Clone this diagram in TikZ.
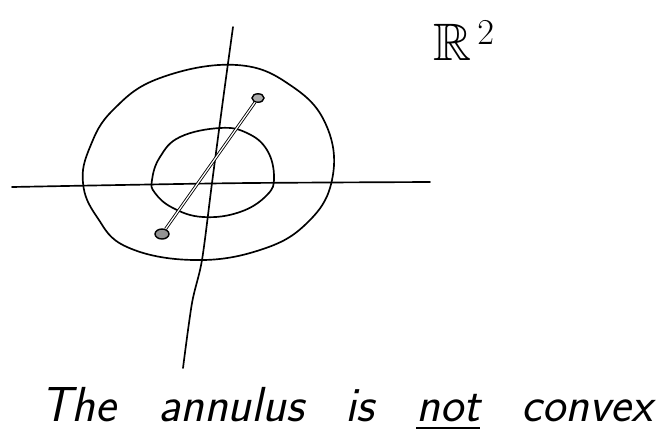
\documentclass[tikz,border=0pt]{standalone}
\usepackage{amssymb}
\usetikzlibrary{shapes.geometric}
\tikzset{
  pen/.style={line width=0.95pt, line cap=round, line join=round},
  spot/.style={ellipse, draw, line width=0.8pt, fill=gray!65, inner sep=0pt,
    minimum width=0.24cm, minimum height=0.17cm},
  chord/.style={line width=0.5pt, double, double distance=0.7pt}
}
\begin{document}
\begin{tikzpicture}[x=0.02cm, y=-0.02cm]
  \useasboundingbox (0,0) rectangle (662,430);
  % 坐标轴
  \draw[pen] plot[smooth] coordinates {(12,187) (120,185) (250,183) (430,182)};
  \draw[pen] plot[smooth] coordinates {(233,27) (223,100) (212,183) (202,260) (192,303) (183,368)};
  % 外圈
  \draw[pen] plot[smooth cycle, tension=0.7] coordinates {
    (237,65) (293,87) (327,127) (332,180) (307,223) (260,250) (193,260)
    (127,247) (97,217) (83,183) (90,147) (113,110) (160,78)};
  % 内圈
  \draw[pen] plot[smooth cycle, tension=0.7] coordinates {
    (220,128) (247,133) (267,150) (274,177) (267,195) (240,212) (203,217)
    (173,208) (155,193) (152,180) (160,157) (180,137)};
  % 两点与连线
  \node[spot] (upper) at (258,98) {};
  \node[spot, fill=gray!85, minimum width=0.28cm, minimum height=0.2cm] (lower) at (162,234) {};
  \draw[chord] (upper) -- (lower);
  % 文字
  \node[anchor=base west, inner sep=0pt] (plane) at (433,60)
    {\fontsize{30}{36}\selectfont $\mathbb{R}^{\,2}$};
  \node[anchor=base west, inner sep=0pt] (caption) at (40,421)
    {\fontsize{28}{32}\selectfont\sffamily\slshape\spaceskip=0.85em
     The annulus is \underline{not} convex};
\end{tikzpicture}
\end{document}
